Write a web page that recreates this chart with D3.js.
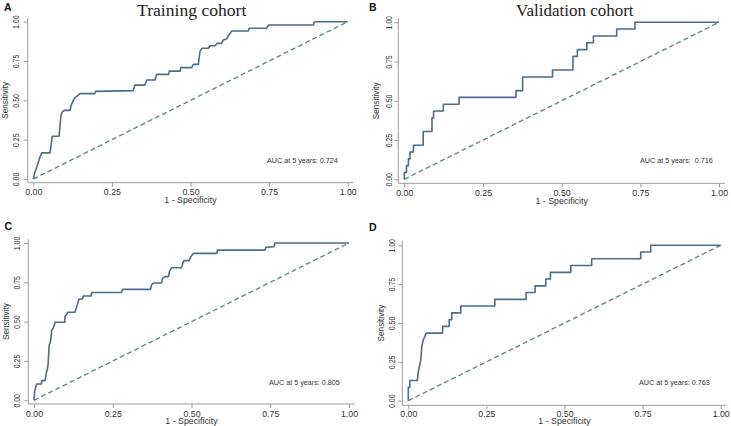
<!DOCTYPE html>
<html><head><meta charset="utf-8">
<script src="https://cdn.jsdelivr.net/npm/d3@7"></script>
<style>body{margin:0;background:#fff} svg{display:block}</style>
</head><body>
<svg id="c" width="731" height="426"></svg>
<script>
const tickValues = [0, 0.25, 0.5, 0.75, 1];
const tickLabels = ["0.00", "0.25", "0.50", "0.75", "1.00"];

// Panel A — Training cohort
const fprA = [0, 0.005, 0.011, 0.016, 0.021, 0.027, 0.053, 0.056, 0.060, 0.082, 0.085, 0.088, 0.092, 0.099, 0.117, 0.120, 0.125, 0.130, 0.138, 0.143, 0.148, 0.196, 0.198, 0.318, 0.323, 0.355, 0.361, 0.387, 0.392, 0.430, 0.433, 0.467, 0.469, 0.504, 0.509, 0.525, 0.530, 0.536, 0.557, 0.562, 0.578, 0.585, 0.599, 0.604, 0.615, 0.620, 0.626, 0.631, 0.684, 0.687, 0.742, 0.748, 0.891, 0.894, 1];
const tprA = [0, 0.043, 0.074, 0.106, 0.138, 0.166, 0.166, 0.202, 0.272, 0.272, 0.340, 0.404, 0.426, 0.436, 0.436, 0.468, 0.489, 0.511, 0.526, 0.532, 0.543, 0.543, 0.557, 0.562, 0.597, 0.597, 0.629, 0.629, 0.665, 0.665, 0.686, 0.686, 0.708, 0.708, 0.729, 0.729, 0.809, 0.831, 0.831, 0.847, 0.847, 0.862, 0.862, 0.883, 0.890, 0.911, 0.926, 0.941, 0.941, 0.958, 0.958, 0.979, 0.979, 1.0, 1.0];

// Panel B — Validation cohort
const fprB = [0, 0, 0.007, 0.007, 0.013, 0.013, 0.018, 0.018, 0.029, 0.029, 0.060, 0.060, 0.088, 0.088, 0.093, 0.093, 0.124, 0.124, 0.174, 0.174, 0.355, 0.355, 0.376, 0.376, 0.471, 0.471, 0.536, 0.536, 0.550, 0.550, 0.580, 0.580, 0.601, 0.601, 0.675, 0.675, 0.733, 0.733, 1];
const tprB = [0, 0.043, 0.043, 0.087, 0.087, 0.130, 0.130, 0.174, 0.174, 0.217, 0.217, 0.304, 0.304, 0.391, 0.391, 0.435, 0.435, 0.478, 0.478, 0.522, 0.522, 0.565, 0.565, 0.652, 0.652, 0.696, 0.696, 0.783, 0.783, 0.826, 0.826, 0.870, 0.870, 0.913, 0.913, 0.957, 0.957, 1.0, 1.0];

// Panel C — Training cohort
const fprC = [0, 0.002, 0.006, 0.0085, 0.024, 0.024, 0.035, 0.037, 0.040, 0.043, 0.045, 0.048, 0.051, 0.054, 0.056, 0.062, 0.067, 0.098, 0.098, 0.104, 0.107, 0.130, 0.132, 0.135, 0.139, 0.143, 0.154, 0.157, 0.181, 0.183, 0.278, 0.281, 0.370, 0.373, 0.379, 0.405, 0.408, 0.416, 0.427, 0.430, 0.437, 0.469, 0.472, 0.476, 0.493, 0.495, 0.500, 0.506, 0.580, 0.582, 0.733, 0.736, 0.762, 0.765, 1];
const tprC = [0, 0.055, 0.087, 0.104, 0.104, 0.125, 0.125, 0.150, 0.182, 0.203, 0.235, 0.351, 0.362, 0.394, 0.447, 0.462, 0.496, 0.496, 0.532, 0.547, 0.560, 0.560, 0.574, 0.589, 0.617, 0.644, 0.644, 0.663, 0.663, 0.685, 0.685, 0.705, 0.705, 0.733, 0.746, 0.746, 0.775, 0.786, 0.786, 0.818, 0.843, 0.843, 0.870, 0.888, 0.888, 0.902, 0.919, 0.934, 0.934, 0.955, 0.955, 0.972, 0.976, 1.0, 1.0];

// Panel D — Validation cohort
const fprD = [0, 0, 0.005, 0.005, 0.029, 0.031, 0.035, 0.040, 0.043, 0.048, 0.053, 0.057, 0.110, 0.110, 0.131, 0.131, 0.139, 0.139, 0.168, 0.168, 0.277, 0.277, 0.377, 0.377, 0.406, 0.406, 0.440, 0.440, 0.455, 0.455, 0.520, 0.520, 0.587, 0.587, 0.744, 0.744, 0.776, 0.776, 1];
const tprD = [0, 0.087, 0.087, 0.130, 0.130, 0.174, 0.217, 0.261, 0.348, 0.391, 0.413, 0.435, 0.435, 0.478, 0.478, 0.522, 0.522, 0.565, 0.565, 0.609, 0.609, 0.652, 0.652, 0.696, 0.696, 0.739, 0.739, 0.783, 0.783, 0.826, 0.826, 0.870, 0.870, 0.913, 0.913, 0.957, 0.957, 1.0, 1.0];

const aucLabels = ["AUC at 5 years: 0.724", "AUC at 5 years:  0.716", "AUC at 5 years: 0.805", "AUC at 5 years: 0.763"];
const panelLetters = ["A", "B", "C", "D"];
const cohortTitles = ["Training cohort", "Validation cohort"];
const xTitle = "1 - Specificity";
const yTitle = "Sensitivity";

const layouts = [
  {fpr: fprA, tpr: tprA, x0: 33.3, x1: 347.7, yT: 21.7, yB: 179, axX: 27.7, axY: 182.7, tickLab: 195.3, xTit: 203, yTickBase: 19.3, yTitBase: 7.8, aucX: 267, aucY: 162.5, lx: 4, ly: 11},
  {fpr: fprB, tpr: tprB, x0: 404.3, x1: 719, yT: 22.3, yB: 179.3, axX: 398.3, axY: 183.3, tickLab: 195.6, xTit: 203.5, yTickBase: 391.6, yTitBase: 378.8, aucX: 640, aucY: 162.5, lx: 369, ly: 11},
  {fpr: fprC, tpr: tprC, x0: 34, x1: 349, yT: 243, yB: 400.3, axX: 28.3, axY: 404, tickLab: 417.2, xTit: 424.2, yTickBase: 20, yTitBase: 9, aucX: 269, aucY: 384.5, lx: 4.5, ly: 230.3},
  {fpr: fprD, tpr: tprD, x0: 408.3, x1: 720.7, yT: 245.3, yB: 400.7, axX: 402.3, axY: 405.3, tickLab: 417.4, xTit: 424.2, yTickBase: 395, yTitBase: 384, aucX: 639, aucY: 384.5, lx: 369, ly: 231}
];

const svg = d3.select("#c");
const curveColor = "#4d6b8d";
const refColor = "#5f8d86";
const axisColor = "#9a9a9a";
const textColor = "#333";
const sans = "'Liberation Sans', Arial, sans-serif";

layouts.forEach((L, i) => {
  const x = d3.scaleLinear().domain([0, 1]).range([L.x0, L.x1]);
  const y = d3.scaleLinear().domain([0, 1]).range([L.yB, L.yT]);
  const g = svg.append("g");
  const pad = L.x0 - L.axX;

  // axis lines
  g.append("line").attr("x1", L.axX).attr("x2", L.x1 + pad).attr("y1", L.axY).attr("y2", L.axY)
    .attr("stroke", axisColor).attr("stroke-width", 1);
  g.append("line").attr("x1", L.axX).attr("x2", L.axX).attr("y1", L.yT - (L.axY - L.yB)).attr("y2", L.axY)
    .attr("stroke", axisColor).attr("stroke-width", 1);

  // x axis
  const xa = g.append("g").attr("transform", `translate(0,${L.axY})`)
    .call(d3.axisBottom(x).tickValues(tickValues).tickFormat((d, k) => tickLabels[k]).tickSize(4).tickSizeOuter(0));
  xa.select(".domain").remove();
  xa.selectAll("line").attr("stroke", axisColor);
  xa.selectAll("text").attr("y", L.tickLab - L.axY).attr("dy", 0)
    .attr("font-family", sans).attr("font-size", 8.8).attr("fill", textColor);

  // y axis
  const ya = g.append("g").attr("transform", `translate(${L.axX},0)`)
    .call(d3.axisLeft(y).tickValues(tickValues).tickFormat((d, k) => tickLabels[k]).tickSize(4).tickSizeOuter(0));
  ya.select(".domain").remove();
  ya.selectAll("line").attr("stroke", axisColor);
  ya.selectAll("text").attr("x", 0).attr("y", 0).attr("dy", 0)
    .attr("text-anchor", "middle")
    .attr("transform", `translate(${L.yTickBase - L.axX},0) rotate(-90) scale(1,1.4)`)
    .attr("font-family", sans).attr("font-size", 7).attr("fill", textColor);

  // axis titles
  g.append("text").attr("x", (L.x0 + L.x1) / 2).attr("y", L.xTit).attr("text-anchor", "middle")
    .attr("font-family", sans).attr("font-size", 8.8).attr("fill", textColor).text(xTitle);
  g.append("text").attr("transform", `translate(${L.yTitBase},${(L.yT + L.yB) / 2}) rotate(-90)`)
    .attr("text-anchor", "middle").attr("font-family", sans).attr("font-size", 8.2).attr("fill", textColor).text(yTitle);

  // reference diagonal
  g.append("line").attr("x1", x(0)).attr("y1", y(0)).attr("x2", x(1)).attr("y2", y(1))
    .attr("stroke", refColor).attr("stroke-width", 1.4).attr("stroke-dasharray", "5,3");

  // ROC curve
  const pts = L.fpr.map((f, k) => [f, L.tpr[k]]);
  g.append("path").datum(pts)
    .attr("d", d3.line().x(d => x(d[0])).y(d => y(d[1])))
    .attr("fill", "none").attr("stroke", curveColor).attr("stroke-width", 1.6).attr("stroke-linejoin", "round");

  // AUC label
  g.append("text").attr("x", L.aucX).attr("y", L.aucY).attr("font-family", sans).attr("font-size", 7.2)
    .attr("fill", textColor).attr("xml:space", "preserve").style("white-space", "pre").text(aucLabels[i]);

  // panel letter
  g.append("text").attr("x", L.lx).attr("y", L.ly).attr("font-family", sans).attr("font-size", 10.5)
    .attr("font-weight", "bold").attr("fill", "#111").text(panelLetters[i]);
});

// cohort titles
svg.append("text").attr("x", 191.7).attr("y", 16).attr("text-anchor", "middle")
  .attr("font-family", "'Liberation Serif', 'Times New Roman', serif").attr("font-size", 17.6).attr("fill", "#222").text(cohortTitles[0]);
svg.append("text").attr("x", 574.8).attr("y", 16).attr("text-anchor", "middle")
  .attr("font-family", "'Liberation Serif', 'Times New Roman', serif").attr("font-size", 17).attr("fill", "#222").text(cohortTitles[1]);
</script>
</body></html>
